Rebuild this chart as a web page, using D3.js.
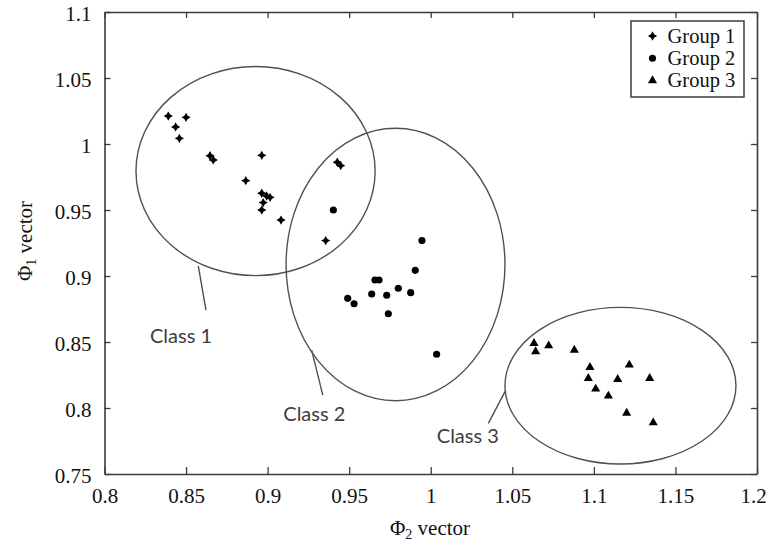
<!DOCTYPE html>
<html>
<head>
<meta charset="utf-8">
<script src="https://cdn.jsdelivr.net/npm/d3@7"></script>
<style>
  html, body { margin: 0; padding: 0; background: #fff; }
  svg { display: block; }
</style>
</head>
<body>
<svg id="chart" width="768" height="547"></svg>
<script>
// ---- data ----------------------------------------------------------------
const xTicks = [0.8, 0.85, 0.9, 0.95, 1, 1.05, 1.1, 1.15, 1.2];
const yTicks = [0.75, 0.8, 0.85, 0.9, 0.95, 1, 1.05, 1.1];

const group1 = [
  [0.8391, 1.0212], [0.8500, 1.0202], [0.8436, 1.0129], [0.8459, 1.0043],
  [0.8647, 0.9911], [0.8667, 0.9879], [0.8964, 0.9914], [0.8866, 0.9722],
  [0.8964, 0.9627], [0.8994, 0.9606], [0.9015, 0.9596], [0.8973, 0.9556],
  [0.8964, 0.9500], [0.9082, 0.9424], [0.9356, 0.9268], [0.9427, 0.9862],
  [0.9448, 0.9836]
];
const group2 = [
  [0.9403, 0.9500], [0.9946, 0.9268], [0.9905, 0.9043], [0.9658, 0.8970],
  [0.9683, 0.8970], [0.9801, 0.8907], [0.9877, 0.8874], [0.9638, 0.8864],
  [0.9730, 0.8854], [0.9491, 0.8831], [0.9530, 0.8790], [0.9740, 0.8714],
  [1.0036, 0.8407]
];
const group3 = [
  [1.0633, 0.8490], [1.0643, 0.8427], [1.0723, 0.8472], [1.0880, 0.8439],
  [1.0976, 0.8308], [1.1217, 0.8326], [1.0966, 0.8225], [1.1146, 0.8217],
  [1.1342, 0.8225], [1.1011, 0.8144], [1.1089, 0.8091], [1.1201, 0.7962],
  [1.1364, 0.7889]
];

const groupNames = ["Group 1", "Group 2", "Group 3"];

// class regions: centre (x, y) and radii (rx, ry), in data units
const classNames = ["Class 1", "Class 2", "Class 3"];
const classEllipses = [
  [0.8926, 0.9795, 0.0733, 0.0792],
  [0.9784, 0.9087, 0.0671, 0.1032],
  [1.1163, 0.8169, 0.0708, 0.0593]
];
// leader line [x1, y1, x2, y2] and label start [x, y], in data units
const classLeaders = [
  [0.8575, 0.9076, 0.8622, 0.8742],
  [0.9270, 0.8439, 0.9338, 0.8098],
  [1.0455, 0.8124, 1.0353, 0.7884]
];
const classLabelPos = [
  [0.8279, 0.8490],
  [0.9096, 0.7904],
  [1.0037, 0.7735]
];

// ---- layout --------------------------------------------------------------
const svg = d3.select("#chart");
const x = d3.scaleLinear().domain([0.8, 1.2]).range([104.5, 757]);
const y = d3.scaleLinear().domain([0.75, 1.1]).range([474, 12]);

const frameColor = "#3c3c3c";
const serif = "'Liberation Serif', 'Times New Roman', serif";

// four-pointed star used for group 1
const star4 = {
  draw(ctx, size) {
    const r = Math.sqrt(size) * 0.62, w = r * 0.36;
    ctx.moveTo(0, -r); ctx.lineTo(w, -w); ctx.lineTo(r, 0); ctx.lineTo(w, w);
    ctx.lineTo(0, r); ctx.lineTo(-w, w); ctx.lineTo(-r, 0); ctx.lineTo(-w, -w);
    ctx.closePath();
  }
};
const symbols = [
  d3.symbol().type(star4).size(56),
  d3.symbol().type(d3.symbolCircle).size(40),
  d3.symbol().type(d3.symbolTriangle).size(36)
];

// ---- axes (ticks point inward on all four sides) -------------------------
function styleAxis(g) {
  g.attr("font-family", serif).attr("font-size", 21);
  g.select(".domain").attr("stroke", frameColor).attr("stroke-width", 1.6);
  g.selectAll(".tick line").attr("stroke", frameColor).attr("stroke-width", 1.3);
  g.selectAll(".tick text").attr("fill", "#111").style("font-family", serif);
}
svg.append("g").attr("transform", `translate(0,${y(0.75)})`)
  .call(d3.axisBottom(x).tickValues(xTicks).tickFormat(d3.format("")).tickSizeInner(-7).tickSizeOuter(0).tickPadding(14))
  .call(styleAxis)
  .call(g => g.selectAll(".tick text").attr("dy", "0.71em")
    .attr("dx", d => d === 1.2 ? -4 : 0));
svg.append("g").attr("transform", `translate(0,${y(1.1)})`)
  .call(d3.axisTop(x).tickValues(xTicks).tickFormat("").tickSizeInner(-6).tickSizeOuter(0))
  .call(styleAxis);
svg.append("g").attr("transform", `translate(${x(0.8)},0)`)
  .call(d3.axisLeft(y).tickValues(yTicks).tickFormat(d3.format("")).tickSizeInner(-6).tickSizeOuter(0).tickPadding(13))
  .call(styleAxis)
  .call(g => g.selectAll(".tick text").attr("dy", "0.42em"));
svg.append("g").attr("transform", `translate(${x(1.2)},0)`)
  .call(d3.axisRight(y).tickValues(yTicks).tickFormat("").tickSizeInner(-6).tickSizeOuter(0))
  .call(styleAxis);

// ---- class ellipses ------------------------------------------------------
svg.append("g").selectAll("ellipse").data(classEllipses).join("ellipse")
  .attr("cx", d => x(d[0])).attr("cy", d => y(d[1]))
  .attr("rx", d => x(d[0] + d[2]) - x(d[0]))
  .attr("ry", d => y(d[1] - d[3]) - y(d[1]))
  .attr("fill", "none").attr("stroke", "#505050").attr("stroke-width", 1.4);

svg.append("g").selectAll("line").data(classLeaders).join("line")
  .attr("x1", d => x(d[0])).attr("y1", d => y(d[1]))
  .attr("x2", d => x(d[2])).attr("y2", d => y(d[3]))
  .attr("stroke", "#505050").attr("stroke-width", 1.4);

svg.append("g").selectAll("text").data(classNames).join("text")
  .attr("x", (d, i) => x(classLabelPos[i][0]))
  .attr("y", (d, i) => y(classLabelPos[i][1]))
  .attr("font-family", "Lato, 'Open Sans', sans-serif")
  .attr("font-size", 20).attr("fill", "#3d3d3d")
  .text(d => d);

// ---- points --------------------------------------------------------------
[group1, group2, group3].forEach((pts, gi) => {
  svg.append("g").selectAll("path").data(pts).join("path")
    .attr("transform", d => `translate(${x(d[0])},${y(d[1])})`)
    .attr("d", symbols[gi]())
    .attr("fill", "#000");
});

// ---- legend --------------------------------------------------------------
const legend = svg.append("g");
legend.append("rect").attr("x", 631).attr("y", 21).attr("width", 113).attr("height", 76)
  .attr("fill", "#fff").attr("stroke", frameColor).attr("stroke-width", 1.5);
groupNames.forEach((name, i) => {
  const cy = 36 + i * 22.3;
  legend.append("path").attr("transform", `translate(652.5,${cy})`)
    .attr("d", symbols[i]()).attr("fill", "#000");
  legend.append("text").attr("x", 667.5).attr("y", cy + 6.8)
    .style("font-family", serif).attr("font-size", 20.5).attr("fill", "#111")
    .text(name);
});

// ---- axis titles ---------------------------------------------------------
const xt = svg.append("text").attr("x", 430).attr("y", 535)
  .attr("text-anchor", "middle").style("font-family", serif).attr("font-size", 21).attr("fill", "#111");
xt.append("tspan").text("Φ");
xt.append("tspan").attr("font-size", 14).attr("dy", 4).text("2");
xt.append("tspan").attr("dy", -4).text(" vector");

const yt = svg.append("text").attr("transform", "translate(32,241) rotate(-90)")
  .attr("text-anchor", "middle").style("font-family", serif).attr("font-size", 21).attr("fill", "#111");
yt.append("tspan").text("Φ");
yt.append("tspan").attr("font-size", 14).attr("dy", 4).text("1");
yt.append("tspan").attr("dy", -4).text(" vector");
</script>
</body>
</html>
